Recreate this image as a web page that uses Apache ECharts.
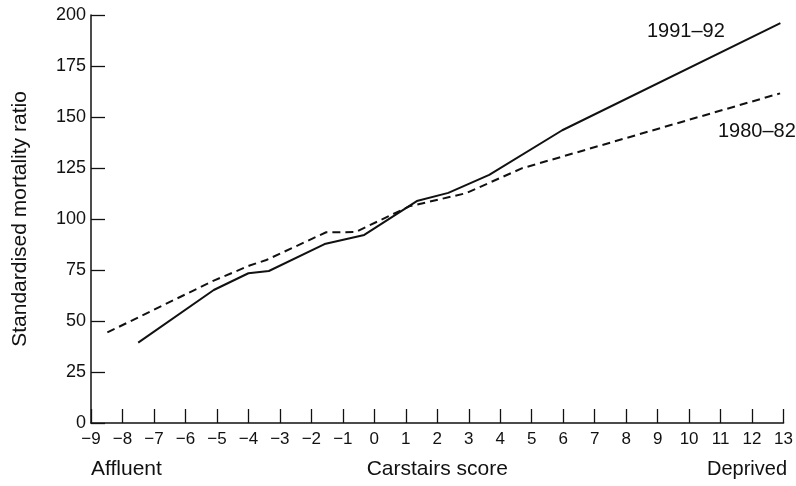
<!DOCTYPE html>
<html>
<head>
<meta charset="utf-8">
<script src="https://cdn.jsdelivr.net/npm/echarts@6/dist/echarts.min.js"></script>
<style>
html,body{margin:0;padding:0;background:#fff;}
#chart{width:796px;height:486px;}
</style>
</head>
<body>
<div id="chart"></div>
<script>
// Data
var score9192 = [-7.5, -5.1, -4.0, -3.35, -1.58, -0.32, 1.35, 2.35, 3.65, 5.97, 12.9];
var smr9192   = [39.4, 65.2, 73.4, 74.5, 87.7, 92.2, 108.8, 112.8, 121.6, 143.5, 196];
var score8082 = [-8.48, -5.1, -3.96, -3.43, -1.53, -0.6, 1.11, 2.9, 4.7, 12.89];
var smr8082   = [44.4, 69.8, 77.2, 79.9, 93.5, 93.6, 106.2, 112.6, 124.9, 161.6];
var seriesNames = ['1991–92', '1980–82'];
var yTicks = [0, 25, 50, 75, 100, 125, 150, 175, 200];
var xTickMin = -9, xTickMax = 13;

function pairs(xs, ys){ return xs.map(function(x,i){ return [x, ys[i]]; }); }

var FONT = '"Liberation Sans", Arial, Helvetica, sans-serif';
var chart = echarts.init(document.getElementById('chart'), null, {renderer:'canvas'});
chart.setOption({
  animation:false,
  backgroundColor:'#fff',
  grid:{left:91, right:11, top:15, bottom:63, containLabel:false},
  xAxis:{
    type:'value', min:xTickMin, max:xTickMax, interval:1,
    name:'Carstairs score', nameLocation:'middle', nameGap:36,
    nameTextStyle:{fontFamily:FONT, fontSize:21, color:'#111'},
    axisLine:{show:true, onZero:false, lineStyle:{color:'#111', width:1.5}},
    axisTick:{show:true, inside:true, length:14, lineStyle:{color:'#111', width:1.3}},
    axisLabel:{fontFamily:FONT, fontSize:17, color:'#111', margin:8,
      formatter:function(v){ return String(v).replace('-', '\u2212'); }},
    splitLine:{show:false}
  },
  yAxis:{
    type:'value', min:yTicks[0], max:yTicks[yTicks.length-1], interval:yTicks[1]-yTicks[0],
    name:'Standardised mortality ratio', nameLocation:'middle', nameGap:60,
    nameTextStyle:{fontFamily:FONT, fontSize:21, color:'#111'},
    axisLine:{show:true, onZero:false, lineStyle:{color:'#111', width:1.5}},
    axisTick:{show:true, inside:true, length:14, lineStyle:{color:'#111', width:1.3}},
    axisLabel:{fontFamily:FONT, fontSize:18, color:'#111', margin:5},
    splitLine:{show:false}
  },
  series:[
    {name:seriesNames[0], type:'line', data:pairs(score9192, smr9192), symbol:'none',
     lineStyle:{color:'#111', width:2}},
    {name:seriesNames[1], type:'line', data:pairs(score8082, smr8082), symbol:'none',
     lineStyle:{color:'#111', width:2, type:[8,5]}}
  ],
  graphic:[
    {type:'text', left:647, top:21, style:{text:seriesNames[0], font:'20px '+FONT, fill:'#111'}},
    {type:'text', left:718, top:121, style:{text:seriesNames[1], font:'20px '+FONT, fill:'#111'}},
    {type:'text', left:91, top:459, style:{text:'Affluent', font:'21px '+FONT, fill:'#111'}},
    {type:'text', right:9, top:459, style:{text:'Deprived', font:'20px '+FONT, fill:'#111'}}
  ]
});
</script>
</body>
</html>
